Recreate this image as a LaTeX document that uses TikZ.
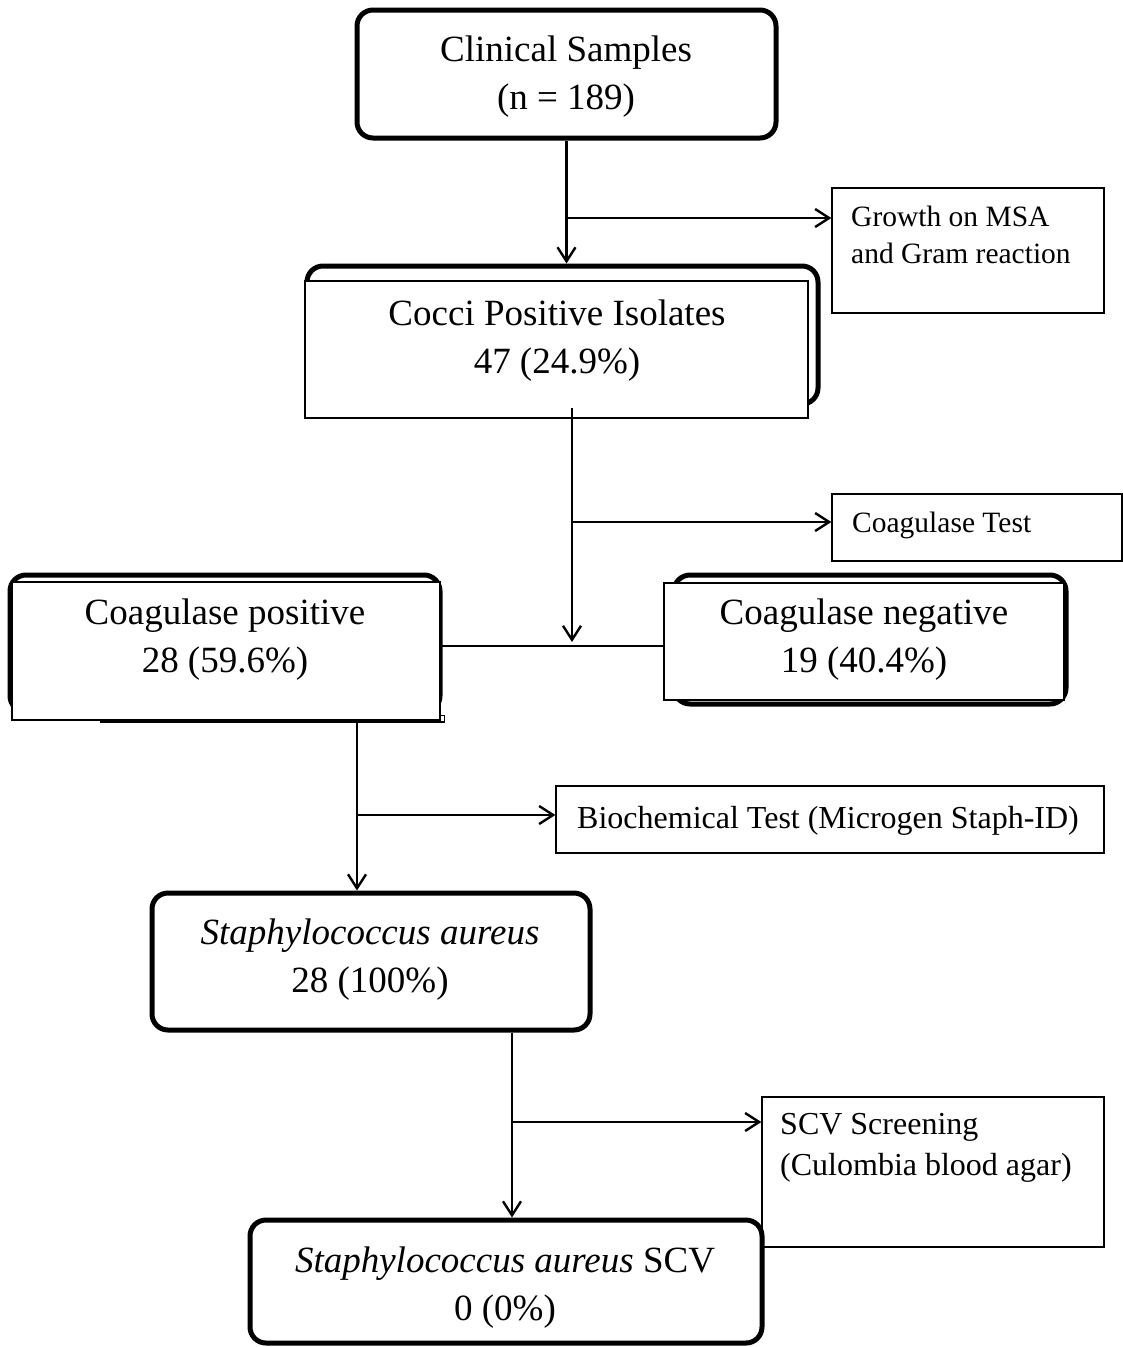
\documentclass[tikz,border=0pt]{standalone}
\usepackage{fontspec}
\setmainfont{Liberation Serif}
\usetikzlibrary{arrows.meta}
\begin{document}
\begin{tikzpicture}[x=1pt,y=-1pt,
  thickbox/.style={draw, line width=5pt, rounded corners=16pt, inner sep=0pt},
  thinbox/.style={draw, line width=1.4pt, fill=white, inner sep=0pt},
  sidebox/.style={draw, line width=1.3pt, inner sep=0pt},
  big/.style={font=\fontsize{37}{48}\selectfont, align=center, inner sep=0pt},
  small/.style={font=\fontsize{29.5}{37}\selectfont, align=left, inner sep=0pt, anchor=west},
  smallb/.style={font=\fontsize{32}{41}\selectfont, align=left, inner sep=0pt, anchor=west},
  conn/.style={line width=2.4pt},
  arr/.style={conn, -{Straight Barb[length=14pt,width=18pt]}}]
\useasboundingbox (0,0) rectangle (1123,1347);

% main boxes
\node[thickbox, minimum width=419pt, minimum height=128pt] (b1) at (566.5,74) {};
\node[big] (t1) at (566,77) {Clinical Samples\\(n = 189)};

\node[thickbox, minimum width=511pt, minimum height=138pt] (b2) at (562.5,335) {};
\node[thinbox, minimum width=503pt, minimum height=137pt] (b2t) at (556.5,349.5) {};
\node[big] (t2) at (557,341) {Cocci Positive Isolates\\47 (24.9\%)};

\node[thickbox, minimum width=430pt, minimum height=137pt] (b3) at (225,643.5) {};
\node[thinbox, minimum width=428pt, minimum height=138pt] (b3t) at (226,651) {};
\draw[line width=1.4pt] (100,722) -- (444,722);
\draw[line width=1pt] (440,715) rectangle (444,722);
\node[big] (t3) at (225,640) {Coagulase positive\\28 (59.6\%)};

\node[thickbox, minimum width=392pt, minimum height=129pt] (b4) at (870,639.5) {};
\node[thinbox, minimum width=400pt, minimum height=117pt] (b4t) at (864,641.5) {};
\node[big] (t4) at (864,640) {Coagulase negative\\19 (40.4\%)};

\node[thickbox, minimum width=438pt, minimum height=137pt] (b5) at (371,961.5) {};
\node[big] (t5) at (370,960) {\textit{Staphylococcus aureus}\\28 (100\%)};

\node[thickbox, minimum width=512pt, minimum height=123pt] (b6) at (506,1281.5) {};
\node[big] (t6) at (505,1288) {\textit{Staphylococcus aureus} SCV\\0 (0\%)};

% side boxes
\node[sidebox, minimum width=272pt, minimum height=125pt] (s1) at (968,250.5) {};
\node[small] (u1) at (851,235) {Growth on MSA\\and Gram reaction};

\node[sidebox, minimum width=290pt, minimum height=67pt] (s2) at (977,527.5) {};
\node[small] (u2) at (852,525) {Coagulase Test};

\node[sidebox, minimum width=548pt, minimum height=67pt] (s3) at (830,819.5) {};
\node[smallb] (u3) at (577,821) {Biochemical Test (Microgen Staph-ID)};

\node[sidebox, minimum width=342pt, minimum height=150pt] (s4) at (933,1172) {};
\node[smallb] (u4) at (780,1148) {SCV Screening\\(Culombia blood agar)};

% junction coordinates
\coordinate (j1) at (566.5,218);
\coordinate (a2) at (572,408);
\coordinate (j2) at (572,522);
\coordinate (hl) at (572,646);
\coordinate (tip2) at (572,642);
\coordinate (a3) at (357,722);
\coordinate (j3) at (357,815);
\coordinate (j4) at (512,1122);

% connectors
\draw[arr] (b1.south) -- (b1.south |- b2.north);
\draw[arr] (j1) -- (s1.west |- j1);

\draw[arr] (a2) -- (tip2);
\draw[arr] (j2) -- (s2.west |- j2);
\draw[conn] (b3t.east |- hl) -- (b4t.west |- hl);

\draw[arr] (a3) -- (a3 |- b5.north);
\draw[arr] (j3) -- (s3.west |- j3);

\draw[arr] (b5.south -| j4) -- (j4 |- b6.north);
\draw[arr] (j4) -- (s4.west |- j4);
\end{tikzpicture}
\end{document}
